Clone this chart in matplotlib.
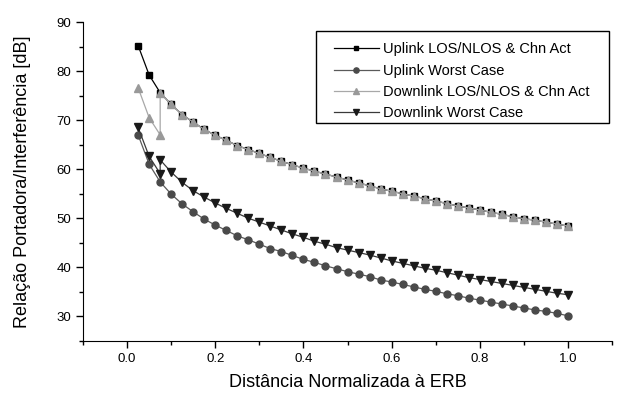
import numpy as np
import matplotlib
matplotlib.use("Agg")
import matplotlib.pyplot as plt
from matplotlib.ticker import MultipleLocator
from matplotlib.patches import Rectangle

plt.rcParams['font.family'] = ['Liberation Sans', 'DejaVu Sans']

# normalized distance to the base station (ERB)
dist = np.round(np.linspace(0.025, 1.0, 40), 3)

up_los = [85.2, 79.2, 75.6, 73.2, 71.1, 69.6, 68.1, 66.9, 65.9, 64.8,
          64.0, 63.2, 62.4, 61.6, 60.9, 60.2, 59.6, 59.0, 58.4, 57.8,
          57.2, 56.6, 56.0, 55.5, 55.0, 54.5, 54.0, 53.5, 53.0, 52.5,
          52.1, 51.7, 51.2, 50.8, 50.3, 49.9, 49.6, 49.2, 48.8, 48.4]

up_worst = [67.0, 61.0, 57.4, 54.9, 52.9, 51.3, 49.8, 48.6, 47.5, 46.4,
            45.6, 44.7, 43.8, 43.2, 42.4, 41.6, 41.0, 40.3, 39.7, 39.1,
            38.6, 38.1, 37.4, 37.0, 36.5, 36.0, 35.5, 35.1, 34.6, 34.2,
            33.7, 33.3, 32.9, 32.5, 32.1, 31.7, 31.3, 31.0, 30.6, 30.1]

# downlink series have two points at d = 0.075
dist_dl = np.concatenate([dist[:3], dist[2:]])

dn_los = [76.6, 70.5, 67.0] + up_los[2:]

dn_worst = [68.5, 62.6, 59.1, 61.9, 59.4, 57.3, 55.6, 54.3, 53.1, 52.0,
            51.0, 50.0, 49.2, 48.4, 47.6, 46.8, 46.1, 45.3, 44.7, 44.0,
            43.5, 43.0, 42.5, 41.9, 41.3, 40.8, 40.3, 39.8, 39.4, 38.9,
            38.4, 37.9, 37.5, 37.1, 36.7, 36.3, 35.9, 35.5, 35.1, 34.7,
            34.4]

labels = ['Uplink LOS/NLOS & Chn Act', 'Uplink Worst Case',
          'Downlink LOS/NLOS & Chn Act', 'Downlink Worst Case']

fig = plt.figure(figsize=(6.29, 3.94), dpi=100)
ax = fig.add_axes([0.132, 0.135, 0.841, 0.809])

ax.plot(dist, up_los, color='black', lw=0.9, marker='s', ms=4.5,
        mfc='black', mec='black', label=labels[0])
ax.plot(dist, up_worst, color='#5a5a5a', lw=0.9, marker='o', ms=5,
        mfc='#4a4a4a', mec='#4a4a4a', label=labels[1])
ax.plot(dist_dl, dn_los, color='#a8a8a8', lw=0.9, marker='^', ms=6,
        mfc='#999999', mec='#999999', label=labels[2])
ax.plot(dist_dl, dn_worst, color='#3a3a3a', lw=0.9, marker='v', ms=6,
        mfc='#1a1a1a', mec='#1a1a1a', label=labels[3])

ax.set_xlim(-0.1, 1.1)
ax.set_ylim(25, 90)
ax.xaxis.set_major_locator(MultipleLocator(0.2))
ax.xaxis.set_minor_locator(MultipleLocator(0.1))
ax.yaxis.set_major_locator(MultipleLocator(10))
ax.yaxis.set_minor_locator(MultipleLocator(5))
ax.set_xticks([0.0, 0.2, 0.4, 0.6, 0.8, 1.0])
ax.tick_params(which='major', direction='out', length=5, width=1, labelsize=9.5)
ax.tick_params(which='minor', direction='out', length=3, width=1)

ax.spines['top'].set_visible(False)
ax.spines['right'].set_visible(False)

ax.set_xlabel('Distância Normalizada à ERB', fontsize=13, labelpad=7)
ax.set_ylabel('Relação Portadora/Interferência [dB]', fontsize=13, labelpad=18)

# legend without its own frame, boxed by a plain rectangle
leg = ax.legend(loc='upper left', bbox_to_anchor=(0.474, 0.936),
                fontsize=10.5, frameon=False, handlelength=3.1,
                borderpad=0, borderaxespad=0, labelspacing=0.5,
                handletextpad=0.3, markerscale=0.75)
ax.add_patch(Rectangle((0.4405, 0.6834), 0.5538, 0.2884,
                       transform=ax.transAxes, fill=False,
                       edgecolor='black', lw=1.0, clip_on=False, zorder=5))

fig.savefig('out.png', dpi=100)
